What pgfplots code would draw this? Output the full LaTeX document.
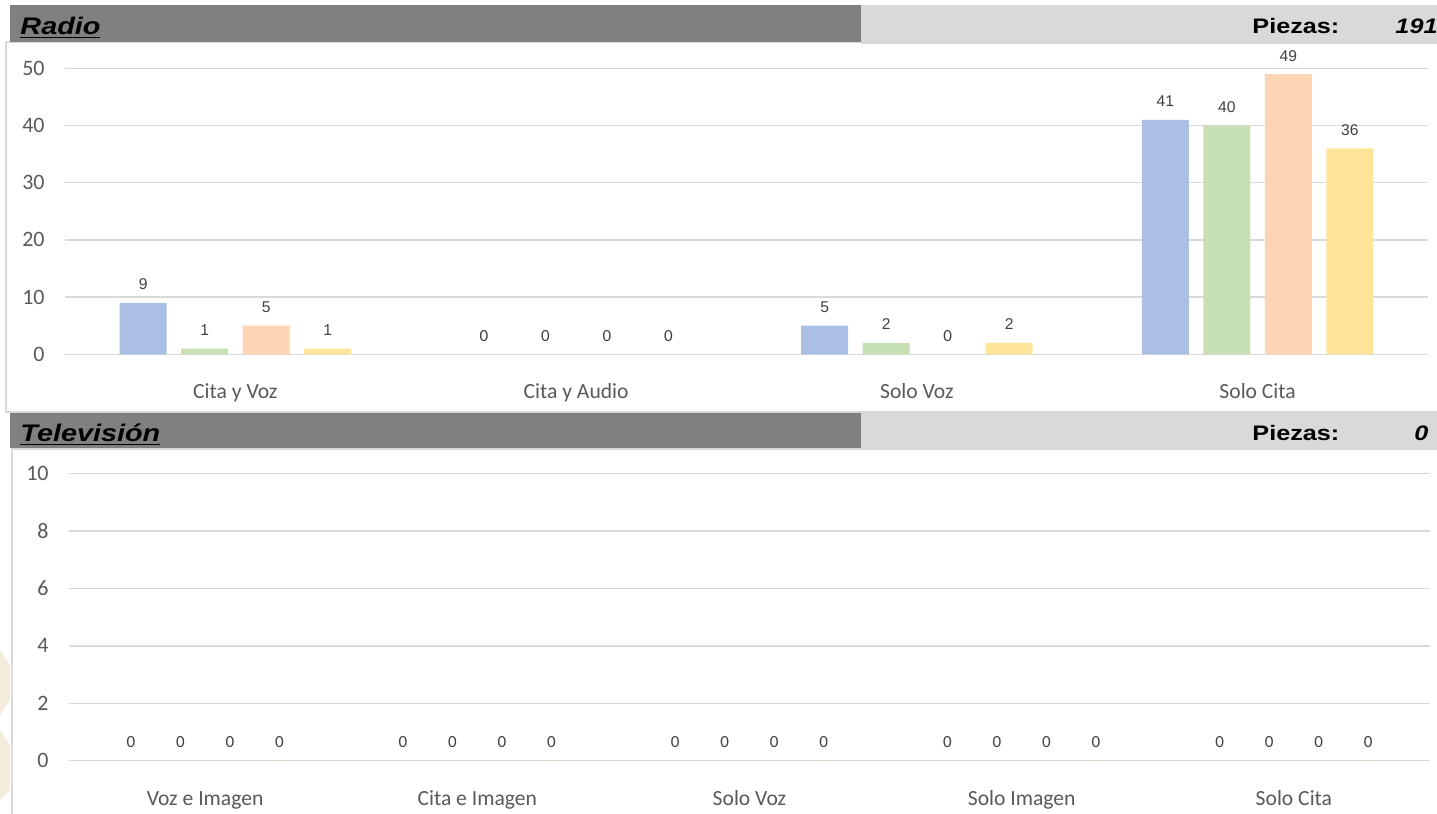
\documentclass[border=0pt]{standalone}
\usepackage{pgfplots}
\pgfplotsset{compat=1.18}
\usepackage{fontspec}
\setmainfont{Carlito}
\newfontfamily\arialf{Liberation Sans}
\definecolor{hdark}{HTML}{808080}
\definecolor{hlight}{HTML}{D9D9D9}
\definecolor{gridc}{HTML}{D9D9D9}
\definecolor{txt}{HTML}{595959}
\definecolor{lbl}{HTML}{404040}
\definecolor{cblue}{HTML}{ABBFE4}
\definecolor{cgreen}{HTML}{C6E0B4}
\definecolor{corange}{HTML}{FCD5B5}
\definecolor{cyellow}{HTML}{FFE599}
\definecolor{wm}{HTML}{F3ECDD}
\pgfkeys{/pgf/number format/assume math mode=true}
\newcommand\mylabel{\pgfmathfloatparsenumber{\pgfplotspointmeta}\pgfmathfloattofixed{\pgfmathresult}\ifdim\pgfmathresult pt<0.5pt {\fontsize{8.5}{9}\selectfont 0}\else{\arialf\fontsize{7.8}{8}\selectfont\pgfmathprintnumber{\pgfplotspointmeta}}\fi}
\pgfplotsset{
 excelbar/.style={
  scale only axis, ymin=0, clip=false,
  /pgf/number format/assume math mode=true,
  axis line style={draw=none}, tick style={draw=none},
  ymajorgrids, major grid style={gridc, line width=0.75pt},
  xtick=data,
  ticklabel style={font=\fontsize{10.8}{12}\selectfont, text=txt, inner sep=0pt},
  yticklabel style={anchor=east, xshift=-10pt, font=\fontsize{11}{12}\selectfont},
  xticklabel style={anchor=base, yshift=-18pt},
  nodes near coords={\mylabel},
  every node near coord/.append style={anchor=base, inner sep=0pt, yshift=6.5pt, text=lbl},
 }
}
\begin{document}
\begin{tikzpicture}[x=0.5pt,y=-0.5pt]
\path[use as bounding box] (0,0) rectangle (1437,814);
\clip (0,0) rectangle (1437,814);
% watermark hint
\fill[wm] (0,650) -- (10,665) -- (10,700) -- (0,715) -- cycle;
\fill[wm] (0,730) -- (10,745) -- (10,790) -- (0,800) -- cycle;
% frames
\draw[gridc, line width=0.75pt] (6,42) rectangle (1450,412);
\draw[gridc, line width=0.75pt] (12,449) rectangle (1450,830);
% headers
\fill[hdark] (10,5) rectangle (861,42);
\fill[hlight] (861,5) rectangle (1437,44);
\fill[hdark] (10,413) rectangle (861,448);
\fill[hlight] (861,413) rectangle (1437,449);
\node[anchor=base west, inner sep=0pt, xscale=1.2] at (20,34) {\arialf\bfseries\itshape\fontsize{12}{14}\selectfont\underline{Radio}};
\node[anchor=base west, inner sep=0pt, xscale=1.2] at (1252,33) {\arialf\bfseries\fontsize{10.5}{12}\selectfont Piezas:};
\node[anchor=base west, inner sep=0pt, xscale=1.2] at (1395,33) {\arialf\bfseries\itshape\fontsize{10.5}{12}\selectfont 191};
\node[anchor=base west, inner sep=0pt, xscale=1.2] at (20,441) {\arialf\bfseries\itshape\fontsize{12}{14}\selectfont\underline{Televisión}};
\node[anchor=base west, inner sep=0pt, xscale=1.2] at (1252,440) {\arialf\bfseries\fontsize{10.5}{12}\selectfont Piezas:};
\node[anchor=base west, inner sep=0pt, xscale=1.2] at (1414,440) {\arialf\bfseries\itshape\fontsize{10.5}{12}\selectfont 0};

\begin{axis}[excelbar, at={(32.5pt,-177.15pt)}, anchor=south west,
  width=681.5pt, height=143pt, ymax=50, ytick={0,10,...,50},
  xmin=-0.5, xmax=3.5,
  xticklabels={Cita y Voz, Cita y Audio, Solo Voz, Solo Cita},
  ybar=7.25pt, bar width=23.5pt]
\addplot[fill=cblue, draw=none] coordinates {(0,9)(1,0)(2,5)(3,41)};
\addplot[fill=cgreen, draw=none] coordinates {(0,1)(1,0)(2,2)(3,40)};
\addplot[fill=corange, draw=none] coordinates {(0,5)(1,0)(2,0)(3,49)};
\addplot[fill=cyellow, draw=none] coordinates {(0,1)(1,0)(2,2)(3,36)};
\end{axis}

\begin{axis}[excelbar, at={(34.5pt,-380.35pt)}, anchor=south west,
  width=680.5pt, height=143.5pt, ymax=10, ytick={0,2,...,10},
  xmin=-0.5, xmax=4.5,
  xticklabels={Voz e Imagen, Cita e Imagen, Solo Voz, Solo Imagen, Solo Cita},
  ybar=5.75pt, bar width=19pt]
\addplot[fill=cblue, draw=none] coordinates {(0,0)(1,0)(2,0)(3,0)(4,0)};
\addplot[fill=cgreen, draw=none] coordinates {(0,0)(1,0)(2,0)(3,0)(4,0)};
\addplot[fill=corange, draw=none] coordinates {(0,0)(1,0)(2,0)(3,0)(4,0)};
\addplot[fill=cyellow, draw=none] coordinates {(0,0)(1,0)(2,0)(3,0)(4,0)};
\end{axis}
\end{tikzpicture}
\end{document}
